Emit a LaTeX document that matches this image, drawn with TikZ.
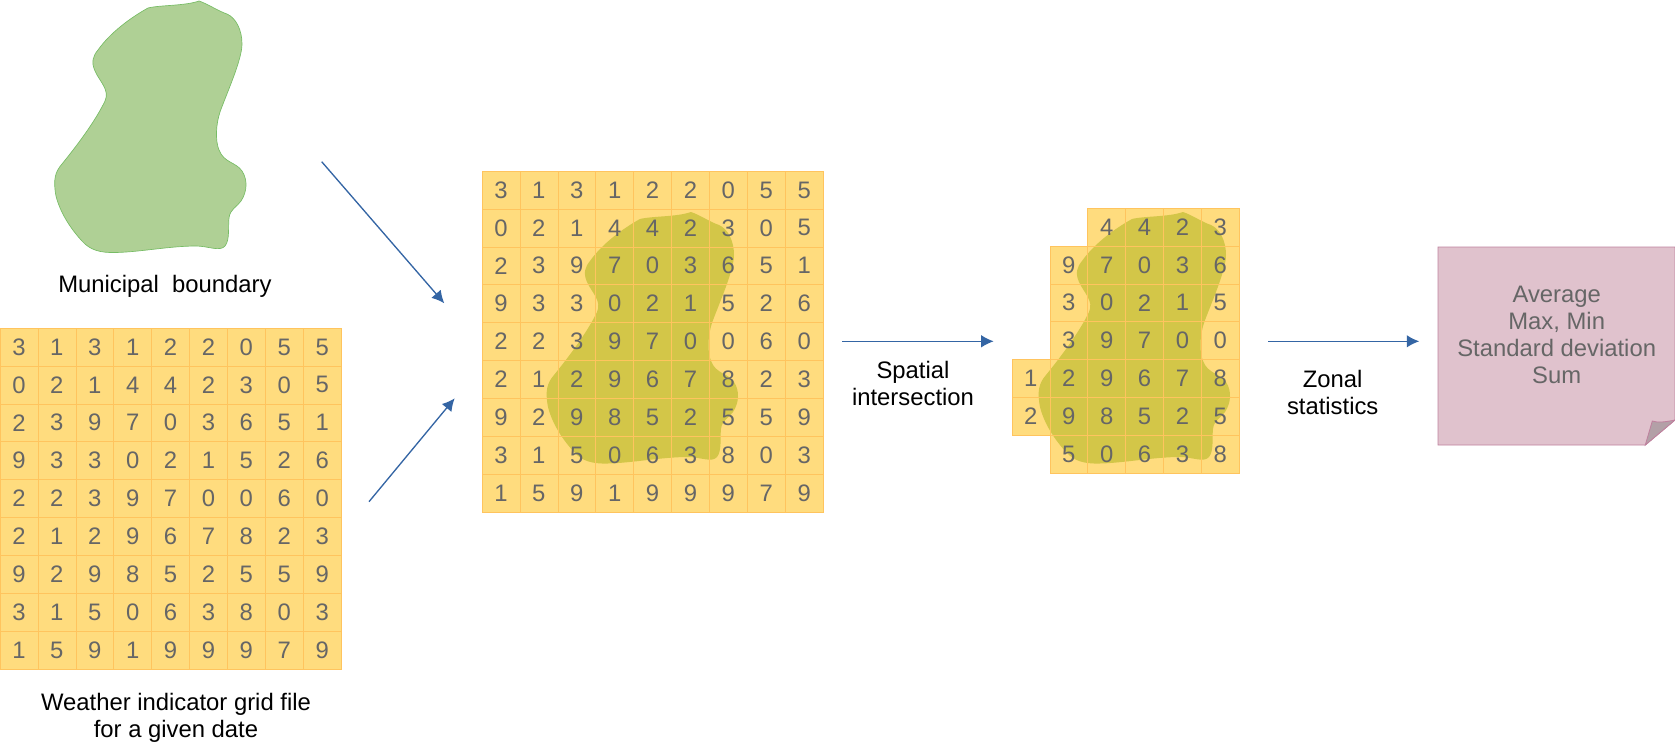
\documentclass[tikz,border=0pt]{standalone}
\usepackage{xcolor}
\usepackage{fontspec}
\setmainfont{Liberation Sans}
\usetikzlibrary{arrows.meta,backgrounds}

\definecolor{cellfill}{HTML}{FFDC7E}
\definecolor{cellline}{HTML}{FFC45E}
\definecolor{blobgreen}{HTML}{AFD095}
\definecolor{blobline}{HTML}{77BC65}
\definecolor{blobover}{HTML}{D3C648}
\definecolor{notefill}{HTML}{E0C2CD}
\definecolor{noteline}{HTML}{BF819E}
\definecolor{notefold}{HTML}{B3A0A7}
\definecolor{arrowblue}{HTML}{3465A4}

\newcommand{\blobpath}{(199,1)
  .. controls (208,4) and (218,11) .. (227,14)
  .. controls (236,18) and (242,30) .. (242,44)
  .. controls (242,60) and (226,95) .. (220,112)
  .. controls (216,124) and (215,140) .. (219,150)
  .. controls (224,163) and (236,162) .. (242,171)
  .. controls (248,180) and (247,192) .. (241,201)
  .. controls (237,207) and (230,209) .. (229,218)
  .. controls (228,226) and (230,240) .. (225,246)
  .. controls (220,252) and (208,246) .. (196,246)
  .. controls (170,246) and (140,252) .. (116,252.5)
  .. controls (100,253) and (90,250) .. (82,241)
  .. controls (70,228) and (60,212) .. (56,196)
  .. controls (53,180) and (55,172) .. (62,164)
  .. controls (75,148) and (95,122) .. (105,101)
  .. controls (110,90) and (100,82) .. (95,71)
  .. controls (91,62) and (93,56) .. (98,50)
  .. controls (110,33) and (130,18) .. (148,8)
  .. controls (160,5) and (185,6) .. (199,1) -- cycle}

% name, left, top, rows as values/first column
\newcommand{\cellrows}[4]{%
  \foreach \vals/\first [count=\r from 0] in #4 {
    \foreach \val [count=\c from \first] in \vals {
      \node[cell] (#1-\r-\c) at (#2+37.9*\c+18.95,#3+37.9*\r+18.95) {\val};
      \begin{pgfonlayer}{background}
        \fill[cellfill] (#1-\r-\c.south west) rectangle (#1-\r-\c.north east);
      \end{pgfonlayer}
    }
  }%
}
\newcommand{\fullrows}{{3,1,3,1,2,2,0,5,5}/0,{0,2,1,4,4,2,3,0,5}/0,{2,3,9,7,0,3,6,5,1}/0,
  {9,3,3,0,2,1,5,2,6}/0,{2,2,3,9,7,0,0,6,0}/0,{2,1,2,9,6,7,8,2,3}/0,
  {9,2,9,8,5,2,5,5,9}/0,{3,1,5,0,6,3,8,0,3}/0,{1,5,9,1,9,9,9,7,9}/0}
\newcommand{\cliprows}{{4,4,2,3}/3,{9,7,0,3,6}/2,{3,0,2,1,5}/2,{3,9,7,0,0}/2,
  {1,2,9,6,7,8}/1,{2,9,8,5,2,5}/1,{5,0,6,3,8}/2}

\begin{document}
\begin{tikzpicture}[x=0.6pt, y=-0.6pt,
  font=\fontsize{14.3}{16.2}\selectfont,
  cell/.style={draw=cellline, line width=0.35pt, minimum size=22.74pt, inner sep=0pt, text=black!60},
  lbl/.style={align=center, inner sep=0pt},
  link/.style={draw=arrowblue, line width=0.8pt, -{Latex[length=7.5pt,width=7.5pt]}}]
\useasboundingbox (0,0) rectangle (1675,742);

% municipal boundary
\filldraw[fill=blobgreen, draw=blobline, line width=0.4pt] \blobpath;
\node[lbl] (bname) at (165,286) {Municipal\ \ boundary};

% source grid
\cellrows{g}{0}{328}{\fullrows}
\node[lbl] (gname) at (176,718) {Weather indicator grid file\\for a given date};

% grid with boundary on top
\cellrows{m}{482}{171}{\fullrows}
\begin{pgfonlayer}{background}
\fill[blobover, shift={(492,211)}] \blobpath;
\end{pgfonlayer}

% clipped cells
\cellrows{z}{974}{208}{\cliprows}
\begin{pgfonlayer}{background}
\fill[blobover, shift={(984,211)}] \blobpath;
\end{pgfonlayer}

% result note
\filldraw[fill=notefill, draw=noteline, line width=0.5pt]
  (1438,247) -- (1675,247) -- (1675,420) -- (1645.3,445) -- (1438,445) -- cycle;
\filldraw[fill=notefold, draw=noteline, line width=0.5pt]
  (1675,420) .. controls (1665,422) and (1658,423) .. (1652.3,421) -- (1645.3,445) -- cycle;
\node[lbl, text=black!60] (note) at (1556.7,334.5) {Average\\Max, Min\\Standard deviation\\Sum};

\coordinate (bout) at (321.7,161.7);
\coordinate (bin) at (444.3,303.3);
\coordinate (gout) at (369,501.7);
\coordinate (gin) at (454.7,398.3);
\coordinate (mout) at (842,341.3);
\coordinate (zin) at (993.7,341.3);
\coordinate (zout) at (1268,341.3);
\coordinate (nin) at (1419.3,341.3);
\draw[link] (bout) -- (bin);
\draw[link] (gout) -- (gin);
\draw[link] (mout) -- (zin);
\draw[link] (zout) -- (nin);
\node[lbl] (sname) at (913,383) {Spatial\\intersection};
\node[lbl] (zname) at (1332.7,392) {Zonal\\statistics};
\end{tikzpicture}
\end{document}
